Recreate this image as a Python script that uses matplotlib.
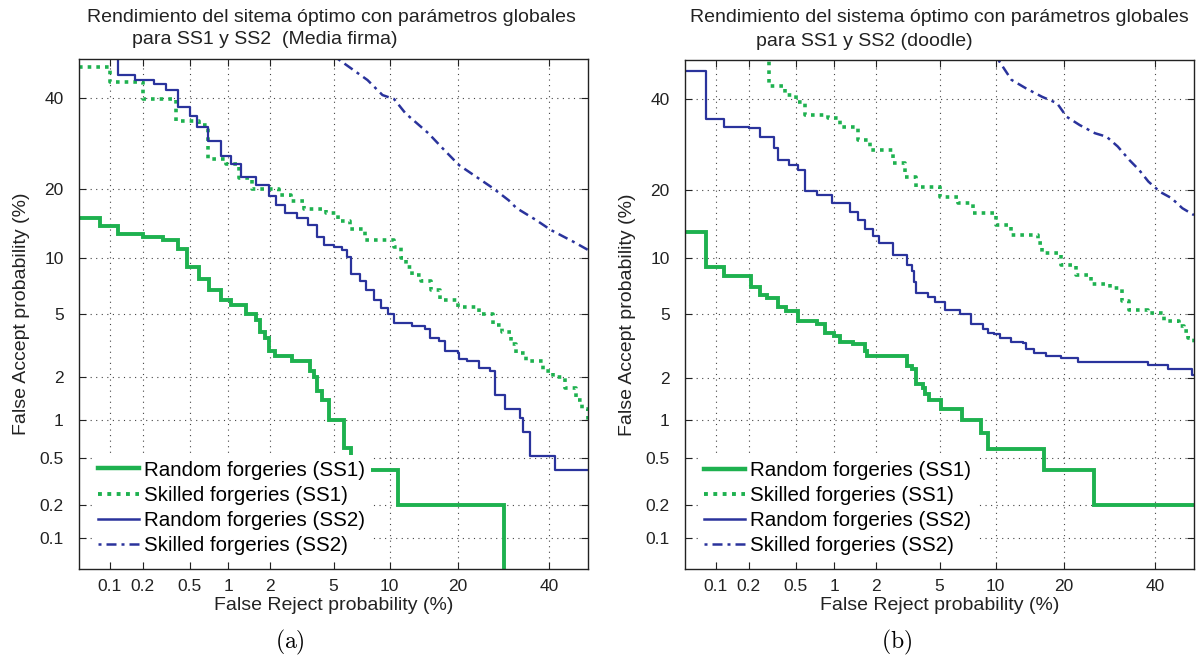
import math
import numpy as np
import matplotlib
matplotlib.use('Agg')
import matplotlib.pyplot as plt
from matplotlib.lines import Line2D

plt.rcParams['font.family'] = ['Liberation Sans', 'DejaVu Sans']
plt.rcParams['mathtext.fontset'] = 'cm'

# ---- datos (en %), curvas DET ----
# (a) Media firma
a_rnd1_fr = [0.05, 0.08, 0.12, 0.2, 0.3, 0.4, 0.48, 0.6, 0.72, 0.88, 1.05, 1.35, 1.6, 1.7, 1.85, 1.95,
             2.15, 2.8, 3.6, 3.8, 4.0, 4.3, 4.7, 5.7, 6.3, 11.0, 29.3]
a_rnd1_fa = [15.3, 14.0, 13.0, 12.6, 12.2, 11.0, 9.0, 7.8, 6.8, 6.0, 5.6, 5.0, 4.6, 3.9, 3.6, 3.0,
             2.75, 2.55, 2.2, 2.0, 1.6, 1.4, 1.0, 0.6, 0.4, 0.2, 0.01]

a_skl1_fr = [0.05, 0.1, 0.2, 0.39, 0.6, 0.7, 0.97, 1.2, 1.5, 2.3, 2.75, 3.3, 4.5, 5.3, 6.2, 7.5, 10.5,
             11.3, 12.0, 12.8, 14.0, 15.5, 17.0, 20.0, 24.0, 27.0, 29.0, 31.0, 32.0, 34.5, 38.5, 41.0,
             44.0, 47.0, 48.5, 50.0]
a_skl1_fa = [47.9, 44.0, 39.8, 34.5, 33.5, 26.0, 25.0, 22.2, 20.0, 19.0, 18.0, 16.6, 16.0, 14.8, 13.6,
             12.2, 11.2, 10.0, 9.0, 8.2, 7.6, 6.8, 6.0, 5.5, 5.0, 4.3, 3.9, 3.3, 2.9, 2.55, 2.2, 2.0,
             1.7, 1.4, 1.2, 1.0]

a_rnd2_fr = [0.1, 0.12, 0.17, 0.25, 0.32, 0.4, 0.5, 0.57, 0.7, 0.88, 1.05, 1.25, 1.6, 1.95, 2.2, 2.5,
             3.0, 3.5, 4.0, 4.4, 5.0, 5.6, 6.0, 6.3, 7.0, 7.6, 8.3, 9.0, 9.8, 10.5, 12.7, 14.6, 15.3,
             16.8, 17.8, 20.0, 20.3, 21.7, 24.0, 26.4, 27.3, 29.5, 33.0, 33.8, 35.5, 41.5, 50.0]
a_rnd2_fa = [60.0, 46.0, 44.5, 43.5, 42.0, 37.8, 35.6, 33.0, 29.8, 26.5, 25.0, 22.3, 20.8, 18.8, 17.3,
             16.0, 15.2, 14.2, 12.6, 11.5, 11.2, 10.9, 10.1, 8.3, 7.6, 6.8, 6.0, 5.4, 5.0, 4.4, 4.25,
             4.1, 3.6, 3.45, 3.0, 2.9, 2.65, 2.55, 2.3, 2.2, 1.5, 1.2, 1.03, 0.8, 0.52, 0.4, 0.4]

a_skl2_fr = [5.3, 7.7, 9.2, 10.5, 11.9, 15.1, 17.6, 20.2, 23.9, 27.0, 30.4, 32.2, 36.7, 40.5, 46.3, 50.0]
a_skl2_fa = [50.0, 44.6, 40.8, 39.8, 36.3, 31.6, 27.9, 24.7, 22.1, 20.2, 18.1, 16.8, 15.0, 13.5, 11.9, 10.9]

# (b) doodle
b_rnd1_fr = [0.05, 0.08, 0.12, 0.21, 0.25, 0.29, 0.36, 0.42, 0.52, 0.74, 0.85, 1.0, 1.1, 1.38, 1.66,
             1.72, 3.16, 3.4, 3.6, 4.0, 4.1, 4.36, 5.1, 6.7, 8.4, 9.2, 16.6, 25.9, 50.0]
b_rnd1_fa = [13.3, 9.0, 8.1, 7.1, 6.4, 6.2, 5.5, 5.2, 4.6, 4.4, 3.9, 3.7, 3.4, 3.3, 3.0,
             2.8, 2.4, 2.3, 1.8, 1.7, 1.55, 1.4, 1.2, 1.0, 0.79, 0.6, 0.4, 0.2, 0.2]

b_skl1_fr = [0.2, 0.3, 0.41, 0.5, 0.6, 0.9, 1.1, 1.5, 1.8, 2.6, 3.1, 3.6, 5.0, 6.35, 7.7, 10.0, 11.9,
             15.6, 16.3, 19.5, 22.3, 25.3, 29.4, 32.0, 33.8, 38.4, 42.2, 46.1, 47.5, 48.5, 50.0]
b_skl1_fa = [60.0, 43.3, 41.0, 39.4, 36.1, 35.3, 33.3, 30.3, 28.0, 25.2, 22.5, 20.6, 18.8, 17.7, 16.1,
             14.3, 12.9, 11.8, 10.6, 9.3, 8.2, 7.4, 7.0, 6.0, 5.3, 5.1, 4.6, 4.3, 4.0, 3.6, 3.35]

b_rnd2_fr = [0.05, 0.08, 0.12, 0.2, 0.25, 0.33, 0.36, 0.44, 0.52, 0.6, 0.74, 0.97, 1.3, 1.5, 1.66, 1.9,
             2.1, 2.6, 3.2, 3.4, 3.5, 3.6, 4.3, 4.7, 5.35, 6.5, 7.5, 8.6, 9.2, 9.8, 10.5, 11.9, 13.4,
             13.9, 15.1, 16.9, 19.5, 22.6, 38.4, 43.2, 49.5, 50.0]
b_rnd2_fa = [47.2, 35.2, 33.3, 33.0, 30.9, 28.4, 25.9, 24.9, 23.9, 19.9, 19.1, 17.7, 16.3, 15.0, 13.8,
             12.7, 11.8, 10.4, 9.3, 8.6, 7.6, 6.6, 6.3, 5.9, 5.3, 5.0, 4.4, 4.1, 3.9, 3.8, 3.6, 3.4,
             3.35, 3.1, 2.9, 2.8, 2.7, 2.55, 2.45, 2.28, 2.1, 2.1]

b_skl2_fr = [10.3, 11.9, 13.9, 16.3, 18.8, 20.5, 23.0, 26.1, 28.6, 31.1, 33.8, 36.1, 38.4, 41.3, 44.2, 47.0, 50.0]
b_skl2_fa = [50.0, 44.9, 42.7, 40.6, 39.0, 35.7, 33.7, 31.8, 31.0, 28.8, 25.9, 23.9, 21.6, 19.7, 18.6, 16.9, 15.8]

ticks = [0.1, 0.2, 0.5, 1, 2, 5, 10, 20, 40]
tick_labels = ['0.1', '0.2', '0.5', '1', '2', '5', '10', '20', '40']
leg_labels = ['Random forgeries (SS1)', 'Skilled forgeries (SS1)',
              'Random forgeries (SS2)', 'Skilled forgeries (SS2)']

VERDE = '#1eb14f'
AZUL = '#2a339c'
PUNTOS = (0, (1, 1.4))
RAYA_PUNTO = (0, (1.2, 2, 4, 2))


# ---- escala probit (desviación normal) ----
def ppf(p):
    a = [-3.969683028665376e+01, 2.209460984245205e+02, -2.759285104469687e+02,
         1.383577518672690e+02, -3.066479806614716e+01, 2.506628277459239e+00]
    b = [-5.447609879822406e+01, 1.615858368580409e+02, -1.556989798598866e+02,
         6.680131188771972e+01, -1.328068155288572e+01]
    c = [-7.784894002430293e-03, -3.223964580411365e-01, -2.400758277161838e+00,
         -2.549671010229583e+00, 4.374664141464968e+00, 2.938163982698783e+00]
    d = [7.784695709041462e-03, 3.224671290700398e-01, 2.445134137142996e+00,
         3.754408661907416e+00]
    p = np.clip(np.asarray(p, dtype=float), 1e-12, 1 - 1e-12)
    plow = 0.02425
    ql = np.sqrt(-2 * np.log(p))
    xl = (((((c[0]*ql + c[1])*ql + c[2])*ql + c[3])*ql + c[4])*ql + c[5]) / \
         ((((d[0]*ql + d[1])*ql + d[2])*ql + d[3])*ql + 1)
    qh = np.sqrt(-2 * np.log(1 - p))
    xh = -(((((c[0]*qh + c[1])*qh + c[2])*qh + c[3])*qh + c[4])*qh + c[5]) / \
         ((((d[0]*qh + d[1])*qh + d[2])*qh + d[3])*qh + 1)
    q = p - 0.5
    r = q * q
    xc = (((((a[0]*r + a[1])*r + a[2])*r + a[3])*r + a[4])*r + a[5]) * q / \
         (((((b[0]*r + b[1])*r + b[2])*r + b[3])*r + b[4])*r + 1)
    return np.where(p < plow, xl, np.where(p > 1 - plow, xh, xc))


_erf = np.vectorize(math.erf)


def fwd(pct):
    return ppf(np.asarray(pct, dtype=float) / 100.0)


def inv(z):
    return 50.0 * (1 + _erf(np.asarray(z, dtype=float) / math.sqrt(2)))


fig = plt.figure(figsize=(11.96, 6.59), dpi=100)
W, H = 1196, 659
ax1 = fig.add_axes([79 / W, 1 - 569 / H, 509 / W, 510 / H])
ax2 = fig.add_axes([685 / W, 1 - 569 / H, 509 / W, 509 / H])

curvas = [
    (ax1, a_rnd1_fr, a_rnd1_fa, a_skl1_fr, a_skl1_fa, a_rnd2_fr, a_rnd2_fa, a_skl2_fr, a_skl2_fa),
    (ax2, b_rnd1_fr, b_rnd1_fa, b_skl1_fr, b_skl1_fa, b_rnd2_fr, b_rnd2_fa, b_skl2_fr, b_skl2_fa),
]

for ax, r1x, r1y, s1x, s1y, r2x, r2y, s2x, s2y in curvas:
    ax.set_xscale('function', functions=(fwd, inv))
    ax.set_yscale('function', functions=(fwd, inv))
    ax.plot(r1x, r1y, color=VERDE, lw=2.8, drawstyle='steps-post', solid_joinstyle='miter')
    ax.plot(s1x, s1y, color=VERDE, lw=2.6, ls=PUNTOS, drawstyle='steps-post')
    ax.plot(r2x, r2y, color=AZUL, lw=1.6, drawstyle='steps-post')
    ax.plot(s2x, s2y, color=AZUL, lw=1.8, ls=RAYA_PUNTO)
    ax.set_xlim(0.05, 50)
    ax.set_ylim(0.05, 50)
    ax.set_xticks(ticks)
    ax.set_xticklabels(tick_labels)
    ax.set_yticks(ticks)
    ax.set_yticklabels(tick_labels)
    ax.minorticks_off()
    ax.tick_params(direction='in', length=5, width=0.8, top=True, right=True,
                   labelsize=12.5, colors='#222222')
    ax.tick_params(axis='x', pad=7)
    ax.tick_params(axis='y', pad=11)
    ax.grid(True, ls=(0, (1, 4)), color='#444444', lw=0.8)
    for s in ax.spines.values():
        s.set_linewidth(1.0)
        s.set_color('#222222')
    ax.set_xlabel('False Reject probability (%)', fontsize=14, labelpad=2, color='#222222')
    ax.set_ylabel('False Accept probability (%)', fontsize=14, labelpad=7, color='#222222')

    handles = [Line2D([], [], color=VERDE, lw=3.2),
               Line2D([], [], color=VERDE, lw=2.8, ls=PUNTOS),
               Line2D([], [], color=AZUL, lw=1.8),
               Line2D([], [], color=AZUL, lw=1.8, ls=RAYA_PUNTO)]
    leg = ax.legend(handles, leg_labels, loc='lower left', bbox_to_anchor=(0.025, 0.015),
                    fontsize=14.8, frameon=True, facecolor='white', edgecolor='none',
                    fancybox=False, framealpha=1, handlelength=2.0, handletextpad=0.25,
                    labelspacing=0.3, borderpad=0.3, borderaxespad=0)

fig.text(331 / W, 1 - 17 / H, 'Rendimiento del sitema óptimo con parámetros globales',
         ha='center', va='center', fontsize=14, color='#222222')
fig.text(132 / W, 1 - 40 / H, 'para SS1 y SS2  (Media firma)',
         ha='left', va='center', fontsize=14, color='#222222')
fig.text(939 / W, 1 - 18 / H, 'Rendimiento del sistema óptimo con parámetros globales',
         ha='center', va='center', fontsize=14, color='#222222')
fig.text(756 / W, 1 - 42 / H, 'para SS1 y SS2 (doodle)',
         ha='left', va='center', fontsize=14, color='#222222')

fig.text(290 / W, 1 - 642 / H, r'$\mathrm{(a)}$', ha='center', va='center', fontsize=17)
fig.text(897 / W, 1 - 642 / H, r'$\mathrm{(b)}$', ha='center', va='center', fontsize=17)

fig.savefig('out.png', dpi=100)
